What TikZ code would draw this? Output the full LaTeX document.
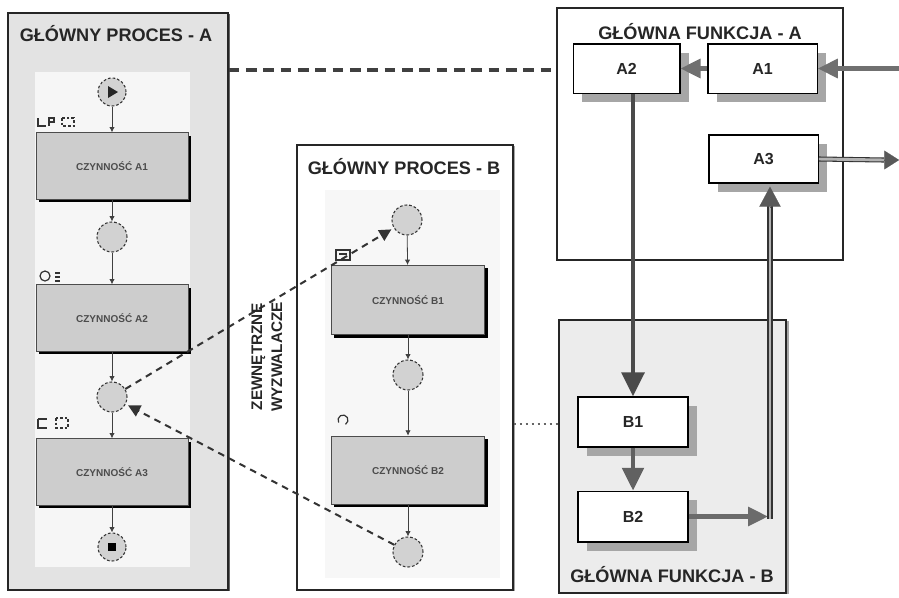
\documentclass[tikz,border=0pt]{standalone}
\usepackage{fontspec}
\setmainfont{Liberation Sans}
\usetikzlibrary{arrows.meta,shadows,fit,calc}
\definecolor{panelgray}{HTML}{E3E3E3}
\definecolor{panelgrayB}{HTML}{ECECEC}
\definecolor{innerfill}{HTML}{F6F6F6}
\definecolor{procfill}{HTML}{CDCDCD}
\definecolor{circfill}{HTML}{D2D2D2}
\definecolor{shadowgray}{HTML}{A6A6A6}
\definecolor{arrgray}{HTML}{707070}
\definecolor{arrdark}{HTML}{4A4A4A}
\begin{document}
\begin{tikzpicture}[x=0.75pt,y=-0.75pt,
  panel/.style={draw=black!85, line width=0.9pt, inner sep=0pt},
  title/.style={font=\bfseries\fontsize{13.6}{15}\selectfont, text=black!85},
  proc/.style={draw=black!70, line width=0.5pt, fill=procfill, minimum width=114pt,
    minimum height=50pt, inner sep=0pt, text=black!70,
    font=\bfseries\fontsize{7.5}{8}\selectfont,
    drop shadow={fill=black, opacity=1, shadow xshift=2.25pt, shadow yshift=-2.25pt}},
  evt/.style={circle, draw=black!80, dash pattern=on 2pt off 1.5pt, fill=circfill,
    minimum size=22.5pt, inner sep=0pt, line width=0.8pt},
  func/.style={draw=black, line width=1pt, fill=white, inner sep=0pt,
    font=\bfseries\fontsize{12}{14}\selectfont, text=black!85,
    drop shadow={fill=shadowgray, opacity=1, shadow xshift=6.75pt, shadow yshift=-6.75pt}},
  flow/.style={-{Latex[length=4pt,width=4pt]}, black!75, line width=0.6pt},
  trig/.style={dash pattern=on 5pt off 4pt, line width=1.5pt, black!80,
    -{Triangle[length=9pt,width=9pt]}, shorten >=2pt},
  heavy/.style={line width=3.2pt, draw=arrgray, -{Triangle[length=15pt,width=14pt]}},
  dbl/.style={draw=black!80, line width=0.8pt, double=black!30, double distance=2.2pt},
  icon/.style={black!80, line width=0.9pt}
]
\useasboundingbox (0,0) rectangle (899,597);
\fill[white] (0,0) rectangle (899,597);

% ---------- process A ----------
\node[panel, fill=panelgray, fit={(8,13)(228,590)},
  drop shadow={fill=black!60, opacity=1, shadow xshift=1.5pt, shadow yshift=-1pt}] (PA) {};
\fill[innerfill] (35,72) rectangle (190,567);
\node[title] (tA) at (116,34) {GŁÓWNY PROCES - A};

\node[evt, minimum size=21pt] (sA) at (112,92) {};
\fill[black!85] ($(sA)+(-4,-6)$) -- ($(sA)+(-4,6)$) -- ($(sA)+(6,0)$) -- cycle;
\node[proc] (pA1) at (112,166) {CZYNNOŚĆ A1};
\node[evt] (cA1) at (112,237) {};
\node[proc] (pA2) at (112,318) {CZYNNOŚĆ A2};
\node[evt] (cA2) at (112,397) {};
\node[proc] (pA3) at (112,472) {CZYNNOŚĆ A3};
\node[evt, minimum size=21pt] (eA) at (112,547) {};
\fill[black] ($(eA)+(-4,-4)$) rectangle ($(eA)+(4,4)$);

\draw[flow] (sA) -- (pA1);
\draw[flow] (pA1) -- (cA1);
\draw[flow] (cA1) -- (pA2);
\draw[flow] (pA2) -- (cA2);
\draw[flow] (cA2) -- (pA3);
\draw[flow] (pA3) -- (eA);

% small markers above the activities
\draw[icon] (38,118) -- (38,126) -- (46,126);
\draw[icon] (49,126) -- (49,118) -- (54,118) -- (54,122) -- (49,122);
\draw[icon, dash pattern=on 2pt off 1.5pt] (62,118) rectangle (74,126);
\draw[icon] (45,276) circle (5);
\draw[icon] (55,273) -- (60,273) (55,277) -- (60,277) (55,281) -- (60,281);
\draw[icon] (38,419) -- (38,428) -- (47,428) (38,419) -- (47,419);
\draw[icon, dash pattern=on 2pt off 1.5pt] (56,418) rectangle (68,428);

% ---------- process B ----------
\node[panel, fill=white, fit={(297,145)(513,590)},
  drop shadow={fill=black!35, opacity=1, shadow xshift=1.5pt, shadow yshift=-1pt}] (PB) {};
\fill[black!3] (325,190) rectangle (500,578);
\node[title] (tB) at (404,167) {GŁÓWNY PROCES - B};

\node[evt] (cB0) at (407,220) {};
\node[proc, minimum width=115pt, minimum height=52pt] (pB1) at (408,300) {CZYNNOŚĆ B1};
\node[evt] (cB1) at (408,375) {};
\node[proc, minimum width=115pt, minimum height=51pt] (pB2) at (408,470) {CZYNNOŚĆ B2};
\node[evt] (cB2) at (408,552) {};

\draw[flow] (cB0) -- (pB1);
\draw[flow] (pB1) -- (cB1);
\draw[flow] (cB1) -- (pB2);
\draw[flow] (pB2) -- (cB2);

\draw[icon] (336,250) rectangle (350,260);
\draw[icon] (339,254) -- (347,254);
\draw[icon] (343,420) ++(150:5) arc (150:420:5);

% external triggers between the processes
\draw[trig] (cA2) -- (cB0);
\draw[trig] (cB2) -- (cA2);
\node[rotate=90, align=center, font=\bfseries\fontsize{11.5}{15}\selectfont, text=black!85]
  (trg) at (267,357) {ZEWNĘTRZNE\\WYZWALACZE};

% ---------- function A ----------
\node[panel, fill=white, fit={(557,8)(843,260)}] (FA) {};
\node[title] (tFA) at (700,32) {GŁÓWNA FUNKCJA - A};
\node[func, minimum width=80pt, minimum height=37pt] (A2) at (626.5,68.5) {A2};
\node[func, minimum width=82pt, minimum height=37pt] (A1) at (762.5,68.5) {A1};
\node[func, minimum width=82pt, minimum height=36pt] (A3) at (763.5,159) {A3};

% ---------- function B ----------
\node[panel, fill=panelgrayB, fit={(559,320)(786,593)},
  drop shadow={fill=shadowgray, opacity=1, shadow xshift=2.5pt, shadow yshift=-1pt}] (FB) {};
\node[title] (tFB) at (672,575) {GŁÓWNA FUNKCJA - B};
\node[func, minimum width=82.5pt, minimum height=37.5pt] (B1) at (633,422) {B1};
\node[func, minimum width=82.5pt, minimum height=38pt] (B2) at (633,516.5) {B2};

% ---------- links between the blocks ----------
\coordinate (ly) at (0,70);
\coordinate (lz) at (0,424);
\draw[black!75, line width=2.3pt, dash pattern=on 8pt off 5pt] (PA.east |- ly) -- (FA.west |- ly);
\draw[black!60, line width=0.8pt, dash pattern=on 2pt off 2.5pt] (PB.east |- lz) -- (FB.west |- lz);

\coordinate (ein) at (899,68.5);
\coordinate (J) at (770,516.5);
\coordinate (aout) at (899,160);
\coordinate (aoutbase) at (884,160);

\draw[heavy] (ein) -- (A1.east);
\draw[heavy] (A1) -- (A2);
\draw[heavy, draw=arrdark, -{Triangle[length=18pt,width=17pt]}] (A2.south -| B1.north) -- (B1.north);
\draw[heavy, draw=black!62, -{Triangle[length=17pt,width=16pt]}] (B1) -- (B2);
\draw[heavy, draw=black!58] (B2.east) -- ($(J)+(-2,0)$);

% double carriers
\draw[dbl] ($(J)+(0,2)$) -- ($(A3.south -| J)+(0,22)$);
\draw[black!65, line width=0.1pt, -{Triangle[length=15pt,width=16pt]}] ($(A3.south -| J)+(0,23)$) -- ($(A3.south -| J)+(0,3)$);
\draw[dbl] (A3.east) -- (aoutbase);
\draw[black!65, line width=0.1pt, -{Triangle[round,length=11pt,width=14pt]}] (aoutbase) -- (aout);
\end{tikzpicture}
\end{document}
